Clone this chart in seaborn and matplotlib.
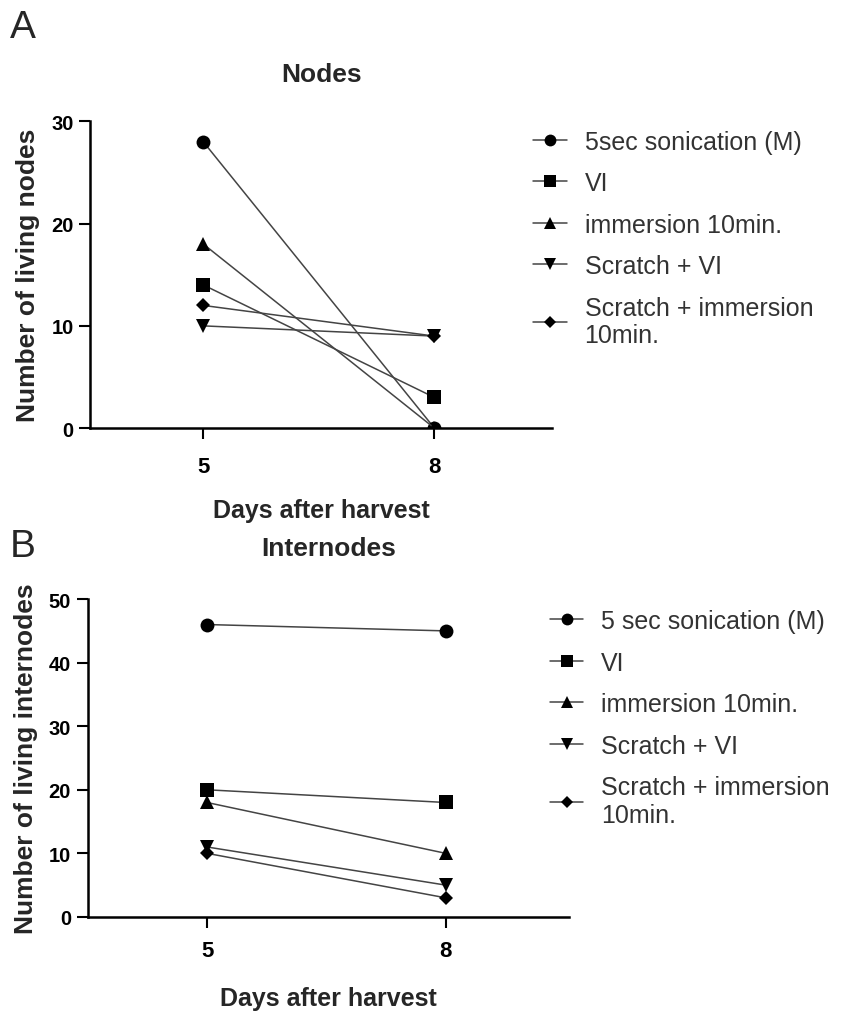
import pandas as pd
import matplotlib
matplotlib.use("Agg")
import matplotlib.pyplot as plt
import seaborn as sns

# data
days = [5, 8]
treat_nodes = ["5sec sonication (M)", "VI", "immersion 10min.", "Scratch + VI",
               "Scratch + immersion\n10min."]
treat_inter = ["5 sec sonication (M)", "VI", "immersion 10min.", "Scratch + VI",
               "Scratch + immersion\n10min."]
nodes_day5 = [28, 14, 18, 10, 12]
nodes_day8 = [0, 3, 0, 9, 9]
inter_day5 = [46, 20, 18, 11, 10]
inter_day8 = [45, 18, 10, 5, 3]
marker_list = ["o", "s", "^", "v", "D"]

sns.set_theme(style="ticks")
plt.rcParams["font.family"] = ["Liberation Sans", "DejaVu Sans"]


def long_df(names, d5, d8):
    rows = []
    for n, a, b in zip(names, d5, d8):
        rows.append({"Treatment": n, "Day": days[0], "Value": a})
        rows.append({"Treatment": n, "Day": days[1], "Value": b})
    return pd.DataFrame(rows)


def draw(ax, df, names, ylim, yticks, ylabel, title, title_pad, xpad, xlabpad,
         leg_anchor, xlim):
    sns.lineplot(data=df, x="Day", y="Value", hue="Treatment", style="Treatment",
                 hue_order=names, style_order=names,
                 palette=["#444444"] * len(names), markers=marker_list, dashes=False,
                 markersize=10, linewidth=1.1, markeredgewidth=0, ax=ax)
    for ln in ax.get_lines():
        ln.set_markerfacecolor("black")
        ln.set_markeredgecolor("black")
        if ln.get_marker() == "D":
            ln.set_markersize(7.5)
    ax.set_xlim(*xlim)
    ax.set_ylim(*ylim)
    ax.set_xticks(days)
    ax.set_yticks(yticks)
    ax.set_xlabel("Days after harvest", fontsize=18, fontweight="bold", labelpad=xlabpad)
    ax.set_ylabel(ylabel, fontsize=19, fontweight="bold", labelpad=8)
    ax.set_title(title, fontsize=19, fontweight="bold", pad=title_pad)
    ax.tick_params(axis="both", width=1.5, length=8, colors="black")
    ax.tick_params(axis="x", labelsize=16, pad=xpad)
    ax.tick_params(axis="y", labelsize=14.5, pad=4)
    for lab in ax.get_xticklabels() + ax.get_yticklabels():
        lab.set_fontweight("bold")
    sns.despine(ax=ax)
    for sp in ["left", "bottom"]:
        ax.spines[sp].set_linewidth(1.8)
        ax.spines[sp].set_color("black")
    handles, labels = ax.get_legend_handles_labels()
    for h in handles:
        h.set_markerfacecolor("black")
        h.set_markeredgecolor("black")
        h.set_markersize(6.5 if h.get_marker() == "D" else 8.5)
    ax.legend(handles, labels, loc="upper left", bbox_to_anchor=leg_anchor,
              bbox_transform=fig.transFigure, frameon=False, fontsize=18,
              labelspacing=0.7, handlelength=1.35, handletextpad=0.72,
              borderpad=0, borderaxespad=0, labelcolor="#333333")


fig = plt.figure(figsize=(8.43, 10.12), dpi=100)
ax_a = fig.add_axes([0.107, 0.576, 0.548, 0.303])
ax_b = fig.add_axes([0.104, 0.093, 0.571, 0.314])

draw(ax_a, long_df(treat_nodes, nodes_day5, nodes_day8), treat_nodes,
     (0, 30), [0, 10, 20, 30], "Number of living nodes", "Nodes", 29, 12, 15,
     (0.632, 0.871), (3.53, 9.53))
draw(ax_b, long_df(treat_inter, inter_day5, inter_day8), treat_inter,
     (0, 50), [0, 10, 20, 30, 40, 50], "Number of living internodes", "Internodes", 32,
     9, 18, (0.652, 0.397), (3.5, 9.55))

fig.text(0.012, 0.962, "A", fontsize=28)
fig.text(0.012, 0.45, "B", fontsize=28)

fig.savefig("out.png", dpi=100)
